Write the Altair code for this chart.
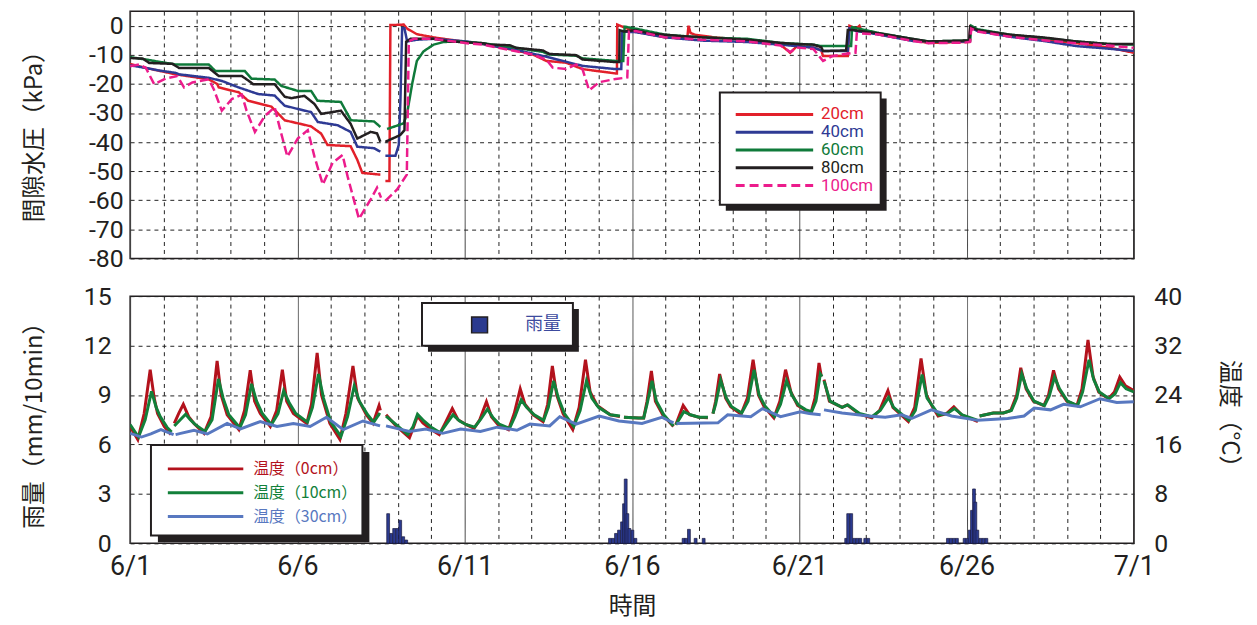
import altair as alt
import pandas as pd

NARROW = "Roboto, Liberation Sans, sans-serif"
CJK = "Noto Sans CJK JP"
INK = "#231f20"

# ---------------- axis ticks / labels ----------------
x_tick_days = [0, 5, 10, 15, 20, 25, 30]
x_tick_labels = ["6/1", "6/6", "6/11", "6/16", "6/21", "6/26", "7/1"]
pp_ticks = [-80, -70, -60, -50, -40, -30, -20, -10, 0]
rain_ticks = [0, 3, 6, 9, 12, 15]
temp_ticks = [0, 8, 16, 24, 32, 40]

# ---------------- pore water pressure (kPa), x = days since 6/1 ----------------
pp_names = ["20cm", "40cm", "60cm", "80cm", "100cm"]
pp_colors = ["#e2202a", "#2e3a94", "#0f7a3a", "#231f20", "#ec1c8c"]

pp20_day = [0.0, 0.47, 1.36, 2.35, 2.6, 2.65, 3.25, 3.53, 4.22, 4.62, 5.41, 5.71, 5.9, 6.59, 6.79, 6.94, 7.48, None,
            7.63, 7.75, 7.78, 7.95, 8.18, 8.28, 8.57, 9.07, 9.56, 10.06, 10.55, 11.54, 12.04, 12.44, 13.03, 13.52,
            14.51, 14.55, 14.56, 14.71, 15.11, 16.0, 16.5, 16.65, 16.69, 16.75, 16.89, 17.47, 18.45, 19.44, 19.73,
            19.93, 20.42, 20.66, 20.71, 21.45, 21.5, 21.7, 21.8, 21.85, 22.38, 23.37, 23.86, 24.94, 25.08, 25.11,
            25.33, 26.31, 27.29, 28.28, 29.26, 30.0]
pp20_val = [-13.1, -14.5, -16.7, -18.4, -20.0, -21.2, -22.9, -25.8, -27.8, -32.5, -34.6, -37.1, -41.0, -41.4, -46.1,
            -50.6, -51.2, None,
            -53.4, -53.4, 0.3, 0.3, 0.4, -1.0, -2.9, -4.0, -4.8, -5.6, -6.3, -8.5, -9.9, -12.1, -12.7, -14.9,
            -16.4, -16.4, 0.4, -0.3, -2.0, -4.0, -4.3, -4.5, 0.0, -2.5, -3.1, -4.0, -5.0, -6.5, -9.3,
            -7.0, -7.5, -8.5, -10.4, -10.4, 0.0, -1.0, 0.0, -1.5, -3.0, -5.0, -5.9, -5.6, -5.6, -0.3,
            -1.8, -3.5, -4.8, -6.0, -7.5, -9.3]

pp40_day = [0.0, 0.47, 0.87, 1.36, 1.46, 2.35, 2.75, 3.24, 3.83, 4.32, 4.62, 5.01, 5.41, 5.61, 6.2, 6.59, 6.79,
            7.29, 7.48, None,
            7.63, 7.93, 8.03, 8.08, 8.13, 8.2, 8.28, 8.57, 9.07, 10.06, 10.55, 11.54, 12.53, 13.52, 14.51, 14.68,
            14.71, 15.11, 16.0, 17.09, 18.45, 19.44, 20.42, 20.71, 21.45, 21.5, 21.7, 22.38, 23.37, 23.86, 24.94,
            25.09, 25.11, 25.33, 26.31, 27.29, 28.28, 29.26, 30.0]
pp40_val = [-13.6, -14.5, -15.4, -16.2, -16.7, -17.9, -19.0, -21.2, -23.5, -24.0, -27.5, -28.6, -29.7, -33.1, -34.2,
            -36.5, -41.6, -42.1, -43.3, None,
            -44.7, -44.7, -41.0, -25.6, -0.9, -0.9, -5.4, -4.8, -4.5, -5.4, -6.3, -8.3, -10.9, -13.8, -14.9, -14.9,
            -2.0, -2.2, -4.0, -5.1, -5.6, -6.5, -7.5, -8.7, -8.7, -0.9, -1.8, -3.0, -5.2, -5.4, -5.4,
            -5.4, -0.5, -1.8, -3.8, -5.2, -7.0, -7.9, -8.7]

pp60_day = [0.0, 0.47, 0.87, 1.36, 2.35, 2.55, 3.43, 3.63, 4.32, 4.52, 5.01, 5.41, 5.6, 6.3, 6.6, 7.29, 7.48, None,
            7.68, 8.07, 8.18, 8.28, 8.43, 8.57, 8.77, 9.07, 9.37, 9.76, 10.55, 11.54, 12.34, 12.53, 13.33, 13.52,
            14.51, 14.74, 14.78, 15.11, 16.0, 17.09, 18.45, 19.44, 20.42, 20.66, 21.4, 21.55, 21.58, 22.38, 23.37,
            23.86, 24.94, 25.11, 25.14, 25.33, 26.31, 27.29, 28.28, 29.26, 30.0]
pp60_val = [-10.8, -11.6, -12.4, -13.3, -13.3, -15.6, -15.6, -18.2, -18.5, -20.7, -22.4, -22.4, -25.8, -26.2, -32.5,
            -32.9, -34.8, None,
            -35.5, -34.0, -33.5, -30.1, -20.0, -12.1, -8.8, -6.5, -5.6, -5.4, -6.0, -7.6, -9.0, -9.9, -10.3, -11.2,
            -12.1, -12.1, -0.3, -1.0, -3.1, -4.0, -4.5, -5.9, -6.5, -7.0, -7.0, -7.0, -0.5, -2.5, -4.5,
            -5.4, -5.1, -5.1, 0.0, -1.2, -3.1, -4.2, -5.4, -6.3, -6.5]

pp80_day = [0.0, 0.38, 0.57, 1.26, 1.46, 2.35, 2.65, 3.34, 3.53, 3.68, 4.32, 4.62, 4.82, 5.21, 5.51, 5.71, 6.3, 6.59,
            6.79, 7.19, 7.38, 7.48, None,
            7.63, 8.07, 8.2, 8.25, 8.38, 9.07, 9.56, 10.06, 10.55, 10.75, 11.35, 11.54, 12.34, 12.53, 13.33, 13.52,
            14.51, 14.62, 14.63, 14.76, 15.11, 15.5, 16.0, 16.5, 17.09, 17.47, 18.45, 19.44, 19.93, 20.42, 20.66,
            20.71, 21.4, 21.45, 21.6, 22.38, 23.37, 23.86, 24.94, 25.08, 25.11, 25.33, 26.31, 27.29, 28.28, 29.26,
            30.0]
pp80_val = [-11.1, -11.3, -12.8, -13.1, -14.5, -14.5, -17.3, -17.3, -18.8, -20.1, -20.1, -24.4, -24.9, -24.1, -26.9,
            -30.3, -29.2, -33.7, -38.8, -36.5, -37.0, -39.9, None,
            -39.9, -37.6, -35.9, -5.5, -4.5, -4.5, -5.4, -5.7, -6.0, -6.5, -6.7, -7.6, -8.5, -9.7, -10.1, -11.6,
            -12.5, -12.5, -1.5, -2.0, -1.5, -2.6, -3.1, -3.6, -4.0, -4.2, -4.8, -5.9, -6.3, -6.5, -7.4,
            -8.7, -8.5, -1.5, -1.5, -2.6, -4.5, -5.4, -5.1, -5.1, -0.3, -1.5, -3.1, -4.0, -5.4, -6.3,
            -6.3]

pp100_day = [0.0, 0.28, 0.47, 0.72, 1.07, 1.41, 1.61, 1.86, 2.35, 2.5, 2.74, 3.04, 3.34, 3.48, 3.73, 4.03, 4.32, 4.47,
             4.7, 5.01, 5.31, 5.51, 5.76, 6.05, 6.35, 6.5, 6.84, 7.19, 7.38, 7.5, None,
             7.63, 7.98, 8.27, 8.33, 8.48, 9.07, 10.06, 10.55, 11.54, 12.04, 12.44, 12.63, 13.03, 13.33, 13.52, 13.72,
             14.02, 14.51, 14.86, 14.91, 15.11, 16.0, 17.09, 18.45, 19.44, 19.73, 19.93, 20.42, 20.71, 21.0, 21.6,
             21.68, 21.72, 22.38, 23.37, 23.86, 24.94, 25.11, 25.14, 25.33, 26.31, 27.29, 28.28, 29.26, 30.0]
pp100_val = [-13.9, -13.3, -14.5, -20.1, -18.1, -17.3, -21.2, -19.5, -18.4, -21.8, -29.2, -25.2, -23.7, -29.2, -36.5,
             -31.0, -28.0, -35.0, -45.0, -38.8, -35.9, -45.0, -54.6, -47.2, -44.4, -51.8, -66.4, -59.7, -55.7, -59.1,
             None,
             -60.2, -56.3, -51.2, -5.4, -4.5, -4.5, -6.0, -6.5, -8.8, -9.9, -11.6, -14.4, -14.9, -13.3, -14.9, -22.2,
             -19.4, -18.3, -17.8, -2.0, -1.8, -4.0, -4.8, -5.4, -6.8, -9.0, -7.5, -8.0, -12.1, -10.4, -9.3,
             -9.3, -2.6, -3.0, -5.2, -6.0, -5.8, -5.5, -1.0, -2.0, -3.8, -5.0, -6.0, -6.8, -7.6]

# ---------------- soil temperature (deg C) ----------------
temp_names = ["温度（0cm）", "温度（10cm）", "温度（30cm）"]
temp_colors = ["#b3121c", "#12803a", "#5878c0"]

t0_day = [0.0, 0.23, 0.42, 0.6, 0.72, 0.82, 1.02, 1.22, None, 1.32, 1.45, 1.59, 1.75, 1.91, 2.21, 2.42, 2.6, 2.72,
          2.9, 3.25, 3.42, 3.59, 3.72, 3.89, 4.19, 4.38, 4.55, 4.68, 4.88, 5.28, 5.42, 5.59, 5.72, 5.97, 6.27, 6.45,
          6.66, 6.8, 7.06, 7.26, 7.44, 7.48, None, 7.65, 7.95, 8.35, 8.45, 8.59, 8.75, 9.0, 9.24, 9.42, 9.63, 9.8,
          10.05, 10.28, 10.45, 10.65, 10.8, 11.0, 11.31, 11.48, 11.66, 11.8, 12.05, 12.34, 12.48, 12.62, 12.75,
          12.94, 13.23, 13.42, 13.61, 13.75, 13.96, 14.35, 14.64, None, 14.76, 15.2, 15.35, 15.45, 15.58, 15.7,
          15.92, 16.24, None, 16.31, 16.53, 16.72, 17.0, 17.27, None, 17.42, 17.5, 17.62, 17.8, 17.95, 18.26,
          18.45, 18.62, 18.78, 18.95, 19.24, 19.42, 19.59, 19.75, 19.95, 20.2, 20.35, 20.47, 20.59, 20.66, None,
          20.74, 20.9, 21.28, 21.43, 21.8, 22.17, 22.4, 22.65, 22.8, 23.26, 23.45, 23.64, 23.8, 23.98, 24.15,
          24.4, 24.62, 24.85, 25.34, None, 25.39, 25.8, 26.1, 26.32, 26.5, 26.62, 26.78, 27.0, 27.31, 27.45,
          27.6, 27.75, 28.0, 28.3, 28.45, 28.63, 28.78, 28.95, 29.24, 29.42, 29.58, 29.75, 30.0]
t0_val = [18.9, 16.8, 21.0, 28.1, 23.5, 21.0, 18.9, 17.6, None, 19.4, 21.0, 22.5, 20.5, 19.4, 17.8, 20.5, 29.5, 24.0,
          20.8, 18.4, 21.5, 28.0, 23.0, 21.0, 18.9, 21.5, 28.1, 23.0, 21.0, 19.4, 22.5, 30.8, 24.0, 19.4, 16.8, 21.0,
          28.7, 23.5, 20.8, 19.4, 22.3, 21.5, None, 20.8, 19.0, 17.1, 18.5, 20.6, 19.5, 18.4, 17.6, 19.5, 21.8, 20.0,
          19.2, 18.6, 20.0, 22.9, 20.5, 19.2, 18.4, 21.0, 25.0, 22.5, 20.8, 19.7, 22.5, 28.7, 24.0,
          21.0, 18.4, 22.0, 29.7, 24.5, 22.3, 20.8, 20.5, None, 20.4, 20.3, 20.3, 23.0, 27.9, 23.0,
          20.8, 18.9, None, 19.2, 22.3, 20.8, 20.4, 20.3, None, 21.0, 23.0, 27.4, 23.5, 22.1, 20.9,
          23.5, 29.7, 24.0, 22.1, 20.3, 23.0, 28.1, 24.5, 22.3, 21.5, 21.1, 23.5, 29.2, 27.0, None,
          26.5, 23.0, 22.0, 22.4, 20.9, 20.3, 21.5, 24.7, 22.0, 19.7, 22.0, 29.9, 24.0, 22.1, 20.6,
          21.0, 22.1, 20.8, 19.7, None, 20.6, 21.1, 21.1, 21.5, 24.0, 28.4, 25.0, 23.0, 22.3, 24.0,
          28.0, 25.0, 23.0, 22.3, 25.0, 32.9, 27.0, 24.5, 23.4, 24.5, 26.9, 25.5, 24.7]

t10_day = [0.0, 0.25, 0.45, 0.64, 0.78, 0.9, 1.1, 1.24, None, 1.32, 1.5, 1.66, 1.8, 1.95, 2.24, 2.45, 2.64, 2.78,
           2.95, 3.28, 3.45, 3.63, 3.78, 3.95, 4.22, 4.42, 4.59, 4.75, 4.95, 5.3, 5.45, 5.63, 5.78, 6.0, 6.3, 6.5,
           6.7, 6.85, 7.1, 7.28, 7.44, 7.48, None, 7.65, 7.95, 8.3, 8.45, 8.59, 8.78, 9.0, 9.27, 9.45, 9.65, 9.85,
           10.05, 10.3, 10.47, 10.68, 10.85, 11.03, 11.34, 11.5, 11.69, 11.85, 12.08, 12.36, 12.5, 12.66, 12.8,
           12.98, 13.26, 13.45, 13.64, 13.8, 14.0, 14.35, 14.64, None, 14.76, 15.2, 15.35, 15.45, 15.6, 15.73,
           15.95, 16.24, None, 16.31, 16.55, 16.75, 17.0, 17.27, None, 17.42, 17.5, 17.65, 17.82, 17.98, 18.28,
           18.47, 18.65, 18.8, 18.98, 19.26, 19.44, 19.62, 19.78, 19.97, 20.2, 20.37, 20.5, 20.63, 20.68, None,
           20.74, 20.92, 21.28, 21.45, 21.8, 22.17, 22.42, 22.67, 22.82, 23.28, 23.47, 23.67, 23.82, 24.0, 24.17,
           24.42, 24.64, 24.87, 25.34, None, 25.39, 25.8, 26.1, 26.34, 26.5, 26.65, 26.8, 27.02, 27.33, 27.47,
           27.63, 27.78, 28.02, 28.32, 28.47, 28.66, 28.8, 28.97, 29.26, 29.44, 29.6, 29.77, 30.0]
t10_val = [19.2, 17.2, 20.0, 24.6, 22.0, 20.5, 18.8, 18.0, None, 19.0, 20.0, 20.9, 20.0, 19.2, 18.1, 20.0, 26.6, 23.5,
           20.8, 18.7, 20.8, 25.8, 23.0, 21.0, 19.2, 21.0, 24.7, 22.8, 21.0, 19.6, 22.0, 27.4, 23.5, 19.6, 17.3, 20.5,
           25.5, 23.0, 20.8, 19.6, 20.9, 20.8, None, 20.6, 19.2, 17.6, 18.8, 20.9, 19.8, 18.8, 17.9, 19.3, 20.8, 19.8,
           19.2, 18.8, 20.0, 21.7, 20.3, 19.3, 18.6, 20.5, 23.2, 22.0, 20.8, 19.9, 22.0, 26.3, 23.5,
           21.0, 18.9, 21.5, 26.3, 23.5, 22.0, 20.8, 20.6, None, 20.4, 20.3, 20.3, 22.5, 26.3, 23.0,
           20.8, 19.0, None, 19.2, 21.3, 20.8, 20.4, 20.4, None, 21.0, 22.5, 26.4, 23.5, 22.1, 21.1,
           23.0, 28.1, 24.0, 22.2, 20.5, 22.5, 26.3, 24.0, 22.4, 21.6, 21.3, 23.0, 27.4, 27.0, None,
           26.3, 23.0, 22.0, 22.4, 21.0, 20.5, 21.5, 23.6, 22.0, 19.9, 21.5, 27.3, 23.5, 22.1, 20.8,
           21.0, 21.8, 20.8, 19.9, None, 20.6, 21.1, 21.1, 21.5, 23.5, 27.4, 25.0, 23.0, 22.3, 23.8,
           26.9, 25.0, 23.0, 22.3, 24.5, 29.7, 26.5, 24.5, 23.4, 24.2, 26.0, 25.0, 24.5]

t30_day = [0.0, 0.34, 0.62, 0.92, 1.3, None, 1.36, 1.51, 1.91, 2.31, 2.9, 3.3, 3.89, 4.39, 4.88, 5.38, 5.87, 6.37,
           6.96, 7.47, None, 7.65, 8.35, 8.84, 9.34, 9.88, 10.47, 10.97, 11.56, 11.95, 12.54, 12.84, 13.33, 14.02,
           14.61, 15.3, 15.89, 16.24, None, 16.33, 17.57, 17.86, 18.55, 18.9, 19.44, 20.03, 20.3, 20.64, None,
           20.74, 21.28, 22.08, 22.57, 23.06, 23.36, 23.95, 24.55, 25.34, 26.23, 26.72, 27.02, 27.51, 27.9, 28.4,
           28.99, 29.49, 30.0]
t30_val = [17.8, 17.2, 17.7, 18.4, 17.6, None, 17.6, 17.8, 18.3, 17.7, 19.4, 18.5, 19.7, 18.9, 19.4, 18.9, 20.4, 18.4,
           19.8, 19.0, None, 19.0, 18.1, 18.5, 17.8, 18.5, 18.1, 18.8, 18.3, 19.3, 19.0, 20.5, 19.3, 20.6,
           19.8, 19.4, 20.4, 19.5, None, 19.4, 19.5, 20.8, 20.5, 21.8, 20.5, 21.3, 21.0, 20.8, None,
           21.6, 21.1, 20.6, 20.4, 20.8, 20.2, 21.6, 20.6, 19.9, 20.2, 20.6, 21.9, 21.6, 22.5, 22.1,
           23.4, 22.8, 22.9]

# ---------------- rainfall (mm/10min) ----------------
rain_day = [7.67, 7.76, 7.85, 7.94, 8.03, 8.12, 8.21,
            14.30, 14.39, 14.48, 14.57, 14.66, 14.72, 14.77, 14.82, 14.88, 14.97, 15.06,
            16.50, 16.58, 16.66, 16.86, 17.10,
            21.36, 21.42, 21.51, 21.60, 21.69, 21.78, 21.93, 22.02,
            24.40, 24.49, 24.58, 24.67, 24.90, 24.99, 25.05, 25.12, 25.18, 25.22, 25.28, 25.37, 25.46, 25.55]
rain_mm = [1.8, 0.6, 0.9, 0.9, 1.4, 0.4, 0.2,
           0.3, 0.3, 0.6, 0.8, 1.3, 2.4, 3.9, 1.8, 0.9, 0.8, 0.3,
           0.3, 0.3, 0.85, 0.3, 0.3,
           0.3, 1.8, 1.8, 0.3, 0.3, 0.3, 0.3, 0.3,
           0.3, 0.3, 0.3, 0.3, 0.3, 0.3, 0.8, 2.0, 3.3, 2.5, 0.8, 0.3, 0.3, 0.3]


def to_rows(name, days, vals, dash="solid"):
    rows, seg = [], 0
    for d, v in zip(days, vals):
        if d is None or v is None:
            seg += 1
            continue
        rows.append({"series": name, "day": d, "val": v, "seg": f"{name}-{seg}", "dash": dash})
    return rows


pp_rows = []
for nm, dd, vv in zip(pp_names,
                      [pp20_day, pp40_day, pp60_day, pp80_day, pp100_day],
                      [pp20_val, pp40_val, pp60_val, pp80_val, pp100_val]):
    pp_rows += to_rows(nm, dd, vv, "dash" if nm == "100cm" else "solid")
pp_df = pd.DataFrame(pp_rows)

t_rows = []
for nm, dd, vv in zip(temp_names, [t0_day, t10_day, t30_day], [t0_val, t10_val, t30_val]):
    t_rows += to_rows(nm, dd, vv)
t_df = pd.DataFrame(t_rows).rename(columns={"series": "depth", "val": "temp"})

rain_df = pd.DataFrame({"day": rain_day, "mm": rain_mm})

W, H = 1011, 249

# x tick label expression from the label lists
lab_expr = "''"
for d, l in reversed(list(zip(x_tick_days, x_tick_labels))):
    lab_expr = f"datum.value === {d} ? '{l}' : ({lab_expr})"

GRID_DASH_X = {"condition": {"test": "datum.value % 5 === 0", "value": [1, 0]}, "value": [4, 4]}
GRID_COLOR_X = {"condition": {"test": "datum.value % 5 === 0", "value": "#444444"}, "value": "#222222"}

x_scale = alt.Scale(domain=[0, 30], nice=False, zero=False)

x_top = alt.X("day:Q", scale=x_scale, title=None,
              axis=alt.Axis(values=list(range(31)), grid=True, gridDash=GRID_DASH_X, gridColor=GRID_COLOR_X,
                            gridWidth=1, labels=False, ticks=False, domain=False))

x_bot = alt.X("day:Q", scale=x_scale, title="時間",
              axis=alt.Axis(values=list(range(31)), grid=True, gridDash=GRID_DASH_X, gridColor=GRID_COLOR_X,
                            gridWidth=1, ticks=False, domain=False, labelExpr=lab_expr, labelOverlap=False,
                            labelFlush=False, labelFont=NARROW, labelFontSize=27, labelColor=INK,
                            labelPadding=10, titleFont=CJK, titleFontSize=24, titleFontWeight="normal",
                            titleColor=INK, titleY=64, titleBaseline="middle"))


def one_row():
    return alt.Chart(alt.Data(values=[{"k": 0}]))


def legend_box(x0, y0, x1, y1, sh):
    shadow = one_row().mark_rect(color=INK).encode(
        x=alt.value(x0 + sh), x2=alt.value(x1 + sh), y=alt.value(y0 + sh), y2=alt.value(y1 + sh))
    box = one_row().mark_rect(fill="white", stroke=INK, strokeWidth=2).encode(
        x=alt.value(x0), x2=alt.value(x1), y=alt.value(y0), y2=alt.value(y1))
    return [shadow, box]


def legend_entry(label, color, xa, xb, xt, yy, font, size, width, dash=None):
    if dash:
        rule = one_row().mark_rule(color=color, strokeWidth=width, strokeDash=dash)
    else:
        rule = one_row().mark_rule(color=color, strokeWidth=width)
    rule = rule.encode(x=alt.value(xa), x2=alt.value(xb), y=alt.value(yy))
    txt = one_row().mark_text(align="left", baseline="middle", color=color, font=font, fontSize=size).encode(
        x=alt.value(xt), y=alt.value(yy), text=alt.value(label))
    return [rule, txt]


# ---------------- top panel ----------------
pp_lines = alt.Chart(pp_df).mark_line(strokeWidth=2.5, clip=True).encode(
    x=x_top,
    y=alt.Y("val:Q", scale=alt.Scale(domain=[-80, 5], nice=False), title="間隙水圧（kPa）",
            axis=alt.Axis(values=pp_ticks, grid=True, gridDash=[4, 4], gridColor="#222222", ticks=False,
                          domain=False, labelExpr="toString(datum.value)", labelFont=NARROW, labelFontSize=25,
                          labelColor=INK, labelPadding=7, titleFont=CJK, titleFontSize=24,
                          titleFontWeight="normal", titleColor=INK, titleX=-96, titleY=120,
                          titleBaseline="middle", titleAngle=270)),
    color=alt.Color("series:N", scale=alt.Scale(domain=pp_names, range=pp_colors), legend=None),
    strokeDash=alt.StrokeDash("dash:N", scale=alt.Scale(domain=["solid", "dash"], range=[[1, 0], [9, 4]]),
                              legend=None),
    detail="seg:N",
)

top_layers = [pp_lines] + legend_box(594, 82, 756, 195, 6)
for i, (nm, col) in enumerate(zip(pp_names, pp_colors)):
    top_layers += legend_entry(nm, col, 610, 688, 696, 104 + i * 17.9, NARROW, 17, 3,
                               [9, 5] if nm == "100cm" else None)
top = alt.layer(*top_layers).properties(width=W, height=H)

# ---------------- bottom panel ----------------
rain = alt.Chart(rain_df).transform_calculate(day_end="datum.day + 0.085").mark_rect(
    fill="#2b3a8f", stroke="#1c1c40", strokeWidth=0.7).encode(
    x=x_bot,
    x2="day_end:Q",
    y=alt.Y("mm:Q", scale=alt.Scale(domain=[0, 15], nice=False), title="雨量（mm/10min）",
            axis=alt.Axis(values=rain_ticks, grid=True, gridDash=[4, 4], gridColor="#222222", ticks=False,
                          domain=False, labelFont=NARROW, labelFontSize=25, labelColor=INK, labelPadding=19,
                          titleFont=CJK, titleFontSize=24, titleFontWeight="normal", titleColor=INK,
                          titleX=-96, titleY=124, titleBaseline="middle", titleAngle=270)),
    y2=alt.datum(0),
)

temps = alt.Chart(t_df).mark_line(strokeWidth=3, clip=True).encode(
    x=x_bot,
    y=alt.Y("temp:Q", scale=alt.Scale(domain=[0, 40], nice=False), title="温度（°C）",
            axis=alt.Axis(orient="right", values=temp_ticks, grid=False, ticks=False, domain=False,
                          labelFont=NARROW, labelFontSize=25, labelColor=INK, labelPadding=20,
                          titleFont=CJK, titleFontSize=24, titleFontWeight="normal", titleColor=INK,
                          titleX=95, titleY=124, titleBaseline="middle", titleAngle=90)),
    color=alt.Color("depth:N", scale=alt.Scale(domain=temp_names, range=temp_colors), legend=None),
    detail="seg:N",
)

bot_layers = [rain, temps]
# rain legend
bot_layers += legend_box(294, 7, 446, 50, 6)
bot_layers.append(one_row().mark_rect(fill="#2b3a8f", stroke=INK, strokeWidth=1.5).encode(
    x=alt.value(344), x2=alt.value(360), y=alt.value(21), y2=alt.value(37)))
bot_layers.append(one_row().mark_text(align="left", baseline="middle", color="#3c4a9e", font=CJK,
                                      fontSize=18).encode(x=alt.value(398), y=alt.value(29),
                                                          text=alt.value("雨量")))
# temperature legend
bot_layers += legend_box(21, 150, 234, 241, 7)
for i, (nm, col) in enumerate(zip(temp_names, temp_colors)):
    bot_layers += legend_entry(nm, col, 38, 114, 124, 174 + i * 24, CJK, 16, 3)

bottom = alt.layer(*bot_layers).resolve_scale(y="independent").properties(width=W, height=H)

chart = alt.vconcat(top, bottom, spacing=11).resolve_scale(
    color="independent", strokeDash="independent"
).properties(
    padding={"left": 14, "top": 0, "right": 8, "bottom": 0}
).configure_view(stroke=INK, strokeWidth=1.5)

chart.save("out.html", embed_options={"renderer": "svg", "actions": False})
